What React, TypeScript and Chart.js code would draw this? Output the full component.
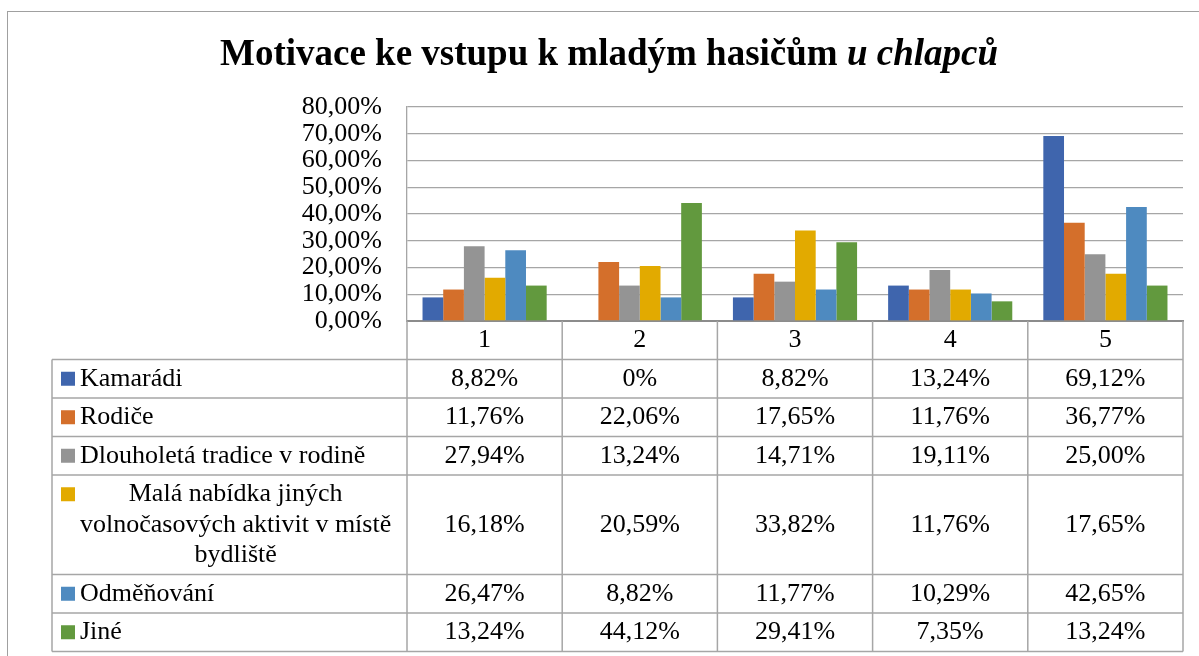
import React, { useEffect, useRef } from "react";
import { Chart, registerables } from "chart.js";

Chart.register(...registerables);

const categories = ["1", "2", "3", "4", "5"];
const seriesNames = [
  "Kamarádi",
  "Rodiče",
  "Dlouholetá tradice v rodině",
  "Malá nabídka jiných volnočasových aktivit v místě bydliště",
  "Odměňování",
  "Jiné",
];
const kamaradi = [8.82, 0, 8.82, 13.24, 69.12];
const rodice = [11.76, 22.06, 17.65, 11.76, 36.77];
const tradice = [27.94, 13.24, 14.71, 19.11, 25.0];
const nabidka = [16.18, 20.59, 33.82, 11.76, 17.65];
const odmenovani = [26.47, 8.82, 11.77, 10.29, 42.65];
const jine = [13.24, 44.12, 29.41, 7.35, 13.24];
const seriesValues = [kamaradi, rodice, tradice, nabidka, odmenovani, jine];
const seriesColors = ["#3F65AD", "#D46F2B", "#949494", "#E2AA00", "#4E8AC0", "#62993E"];

const yMin = 0;
const yMax = 80;
const yStep = 10;

const titleMain = "Motivace ke vstupu k mladým hasičům ";
const titleItalic = "u chlapců";

const FONT = '"Liberation Serif", "Times New Roman", serif';
const LINE = "#A6A6A6";

const fmtTable = (v: number) => (v === 0 ? "0%" : v.toFixed(2).replace(".", ",") + "%");
const fmtAxis = (v: number) => v.toFixed(2).replace(".", ",") + "%";

function wrap(ctx: CanvasRenderingContext2D, text: string, maxW: number): string[] {
  const words = text.split(" ");
  const lines: string[] = [];
  let cur = "";
  for (const w of words) {
    const test = cur ? cur + " " + w : w;
    if (cur && ctx.measureText(test).width > maxW) {
      lines.push(cur);
      cur = w;
    } else cur = test;
  }
  if (cur) lines.push(cur);
  return lines;
}

const framePlugin = {
  id: "frame",
  beforeDraw(chart: any) {
    const ctx = chart.ctx as CanvasRenderingContext2D;
    ctx.save();
    ctx.fillStyle = "#fff";
    ctx.fillRect(0, 0, chart.width, chart.height);
    ctx.strokeStyle = "#A0A0A0";
    ctx.lineWidth = 1;
    ctx.strokeRect(7.5, 11.5, chart.width + 20, chart.height + 20);
    // title
    ctx.fillStyle = "#000";
    ctx.textBaseline = "alphabetic";
    const fMain = `bold 37px ${FONT}`;
    const fIt = `italic bold 37px ${FONT}`;
    ctx.font = fMain;
    const w1 = ctx.measureText(titleMain).width;
    ctx.font = fIt;
    const w2 = ctx.measureText(titleItalic).width;
    const cx = 609;
    const x0 = cx - (w1 + w2) / 2;
    ctx.font = fMain;
    ctx.textAlign = "left";
    ctx.fillText(titleMain, x0, 65);
    ctx.font = fIt;
    ctx.fillText(titleItalic, x0 + w1, 65);
    ctx.restore();
  },
};

const tablePlugin = {
  id: "dataTable",
  afterDraw(chart: any) {
    const ctx = chart.ctx as CanvasRenderingContext2D;
    const { left, right, bottom } = chart.chartArea;
    const n = chart.data.labels.length;
    const colW = (right - left) / n;
    const tableLeft = 52;
    const lineH = 30.5;
    const padV = 8;
    const keyX = tableLeft + 9;
    const keySize = 14;
    const textX = keyX + keySize + 5;
    ctx.save();
    ctx.font = `26px ${FONT}`;
    ctx.fillStyle = "#000";
    ctx.textBaseline = "middle";

    const datasets = chart.data.datasets;
    const rows = datasets.map((d: any) => wrap(ctx, d.label, left - textX - 1));
    const heights = rows.map((r: string[]) => r.length * lineH + padV);
    const headerH = lineH + padV;
    let ys = [bottom, bottom + headerH];
    heights.forEach((h: number) => ys.push(ys[ys.length - 1] + h));
    const tableBottom = ys[ys.length - 1];

    ctx.strokeStyle = LINE;
    ctx.lineWidth = 1.5;
    ctx.beginPath();
    for (let i = 0; i <= n; i++) {
      const x = left + i * colW;
      ctx.moveTo(x, bottom);
      ctx.lineTo(x, tableBottom);
    }
    ctx.moveTo(tableLeft, ys[1]);
    ctx.lineTo(tableLeft, tableBottom);
    for (let k = 1; k < ys.length; k++) {
      ctx.moveTo(tableLeft, ys[k]);
      ctx.lineTo(right, ys[k]);
    }
    ctx.stroke();

    ctx.textAlign = "center";
    chart.data.labels.forEach((lab: string, i: number) => {
      ctx.fillText(lab, left + (i + 0.5) * colW, bottom + headerH / 2);
    });

    datasets.forEach((d: any, r: number) => {
      const top = ys[r + 1];
      const h = heights[r];
      const cy = top + h / 2;
      const lines = rows[r];
      const maxW = Math.max(...lines.map((l: string) => ctx.measureText(l).width));
      const firstY = cy - ((lines.length - 1) * lineH) / 2;
      ctx.fillStyle = d.backgroundColor;
      ctx.fillRect(keyX, firstY - keySize / 2, keySize, keySize);
      ctx.fillStyle = "#000";
      ctx.textAlign = "center";
      lines.forEach((l: string, j: number) => {
        ctx.fillText(l, textX + maxW / 2, firstY + j * lineH);
      });
      d.data.forEach((v: number, i: number) => {
        ctx.fillText(fmtTable(v), left + (i + 0.5) * colW, cy);
      });
    });
    ctx.restore();
  },
};

export default function App() {
  const ref = useRef<HTMLCanvasElement>(null);
  useEffect(() => {
    if (!ref.current) return;
    const chart = new Chart(ref.current, {
      type: "bar",
      data: {
        labels: categories,
        datasets: seriesNames.map((name, i) => ({
          label: name,
          data: seriesValues[i],
          backgroundColor: seriesColors[i],
          borderWidth: 0,
          categoryPercentage: 0.8,
          barPercentage: 1,
        })),
      },
      options: {
        responsive: false,
        animation: false,
        layout: { padding: { top: 107, left: 0, right: 16, bottom: 335 } },
        plugins: {
          legend: { display: false },
          title: { display: false },
          tooltip: { enabled: false },
        },
        scales: {
          x: {
            grid: { display: false },
            ticks: { display: false },
            border: { display: true, color: "#8C8C8C", width: 2 },
            afterFit: (s: any) => {
              s.height = 0;
            },
          },
          y: {
            min: yMin,
            max: yMax,
            ticks: {
              stepSize: yStep,
              autoSkip: false,
              padding: 25,
              color: "#000",
              font: { family: FONT, size: 26 },
              callback: (v: any) => fmtAxis(Number(v)),
            },
            grid: { color: LINE, lineWidth: 1.3, drawTicks: false },
            border: { display: true, color: LINE, width: 1.3 },
            afterFit: (s: any) => {
              s.width = 407;
            },
          },
        },
      },
      plugins: [framePlugin, tablePlugin],
    });
    return () => chart.destroy();
  }, []);
  return (
    <div style={{ position: "absolute", left: 0, top: 0, width: 1199, height: 656 }}>
      <canvas ref={ref} width={1199} height={656} style={{ display: "block" }} />
    </div>
  );
}
